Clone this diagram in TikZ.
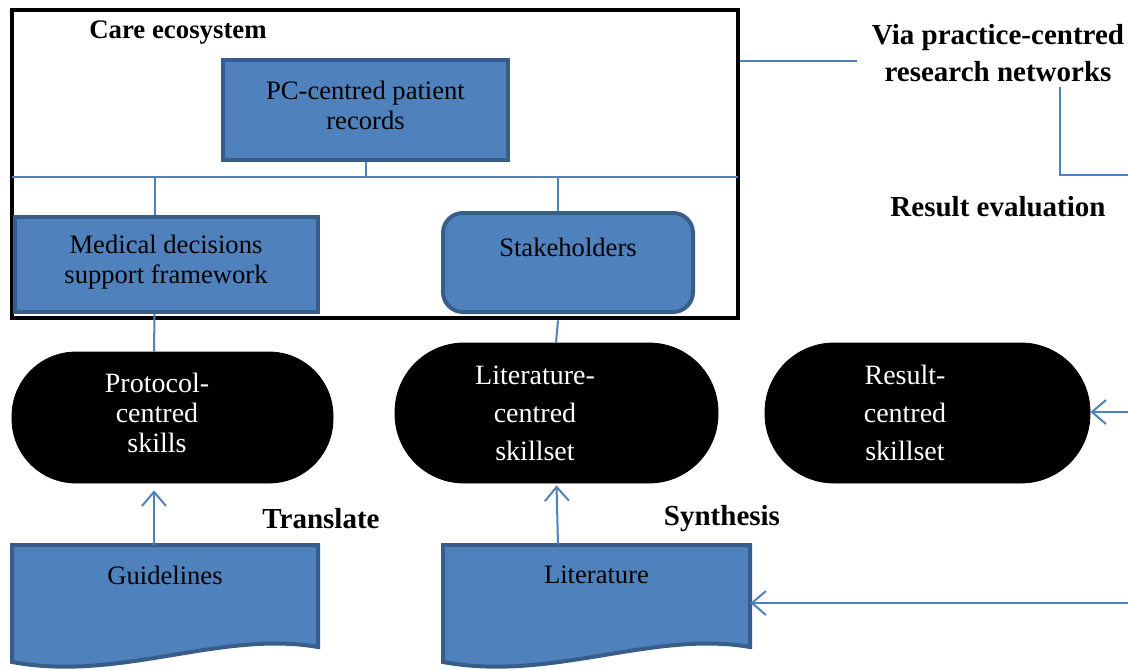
\documentclass[tikz,border=0pt]{standalone}
\usepackage{fontspec}
\setmainfont{Liberation Serif}
\usetikzlibrary{arrows.meta,calc}
\definecolor{boxfill}{RGB}{79,129,189}
\definecolor{boxline}{RGB}{56,93,138}
\definecolor{connc}{RGB}{79,129,189}
\begin{document}
\begin{tikzpicture}[x=0.5pt,y=-0.5pt,
  bluebox/.style={draw=boxline, fill=boxfill, line width=2pt, inner sep=0pt},
  boxtext/.style={font=\fontsize{13.3}{15}\selectfont, align=center, inner sep=0pt},
  pill/.style={fill=black, draw=black, inner sep=0pt},
  pilltext/.style={text=white, font=\fontsize{14}{19}\selectfont, align=center, inner sep=0pt},
  conn/.style={draw=connc, line width=1pt},
  arr/.style={conn, -{Straight Barb[length=7pt,width=12pt]}},
  hdr/.style={font=\fontsize{14.5}{18.5}\selectfont\bfseries, align=center, inner sep=0pt},
]
\useasboundingbox (0,0) rectangle (1128,669);

% outer care ecosystem box
\node[draw=black, line width=2.4pt, minimum width=363pt, minimum height=154pt, inner sep=0pt] (eco) at (375,164) {};
\node[hdr, font=\fontsize{13.4}{16}\selectfont\bfseries] (ecolabel) at (178,33) {Care ecosystem};

% boxes inside
\node[bluebox, minimum width=142.5pt, minimum height=50pt] (pc) at (365.5,110) {};
\node[boxtext] (pctext) at (365.5,105) {PC-centred patient\\records};

\node[bluebox, minimum width=151.5pt, minimum height=47.5pt] (med) at (166.5,264.5) {};
\node[boxtext] (medtext) at (166,262) {Medical decisions\\support framework};

\node[bluebox, rounded corners=10pt, minimum width=125pt, minimum height=49.5pt] (stake) at (568,262.5) {};
\node[boxtext] (staketext) at (568,247) {Stakeholders};

% bus
\coordinate (busL) at (12,177);
\coordinate (busR) at (738,177);
\draw[conn] (busL) -- (busR);
\draw[conn] (pc.south) -- (pc.south |- busL);
\draw[conn] ([xshift=-6pt]med.north) -- ([xshift=-6pt]med.north |- busL);
\draw[conn] ([xshift=-5pt]stake.north) -- ([xshift=-5pt]stake.north |- busL);

% skill pills
\node[pill, rounded corners=32pt, minimum width=160.5pt, minimum height=65.5pt] (prot) at (172.5,417.5) {};
\node[pilltext, font=\fontsize{14}{15}\selectfont] (prottext) at (157,413) {Protocol-\\centred\\skills};

\node[pill, rounded corners=34.5pt, minimum width=161.5pt, minimum height=70pt] (lit) at (556.5,413) {};
\node[pilltext] (littext) at (535,413) {Literature-\\centred\\skillset};

\node[pill, rounded corners=34.5pt, minimum width=162.5pt, minimum height=70pt] (res) at (927.5,413) {};
\node[pilltext] (restext) at (905,413) {Result-\\centred\\skillset};

% links between boxes and pills
\draw[conn] ([xshift=-6pt]med.south) -- ([xshift=-9.25pt]prot.north);
\draw[conn] ([xshift=-5pt]stake.south |- eco.south) -- ([xshift=-0.25pt]lit.north);

% documents
\draw[bluebox] (12,545) -- (318,545) -- (318,647) .. controls (220,630) and (120,682) .. (12,662) -- cycle;
\node[inner sep=0pt, minimum width=153pt, minimum height=51pt] (guide) at (165,596) {};
\node[boxtext] (guidetext) at (165,575) {Guidelines};

\draw[bluebox] (443,545) -- (750,545) -- (750,647) .. controls (652,630) and (552,682) .. (443,662) -- cycle;
\node[inner sep=0pt, minimum width=153.5pt, minimum height=51pt] (litdoc) at (596.5,596) {};
\node[boxtext] (litdoctext) at (596.5,575) {Literature};

% arrows up
\draw[arr] ([xshift=-5.5pt]guide.north) -- ([xshift=-9.25pt,yshift=-3.5pt]prot.south);
\draw[arr] ([xshift=-19.25pt]litdoc.north) -- ([yshift=-1pt]lit.south);

\node[hdr] (translate) at (321,519) {Translate};
\node[hdr] (synth) at (722,519) {Synthesis};

% right side
\node[hdr] (via) at (998,53.5) {Via practice-centred\\research networks};
\node[hdr] (reseval) at (998,207) {Result evaluation};

\coordinate (viaend) at (857,61);
\draw[conn] (eco.east |- viaend) -- (viaend);
\coordinate (r1) at (1060,87);
\coordinate (r2) at (1128,175);
\draw[conn] (r1) |- (r2);

\coordinate (inres) at (1128,412);
\draw[arr] (inres) -- (res.east |- inres);
\coordinate (inlit) at (1128,603);
\draw[arr] (inlit) -- (litdoc.east |- inlit);
\end{tikzpicture}
\end{document}
